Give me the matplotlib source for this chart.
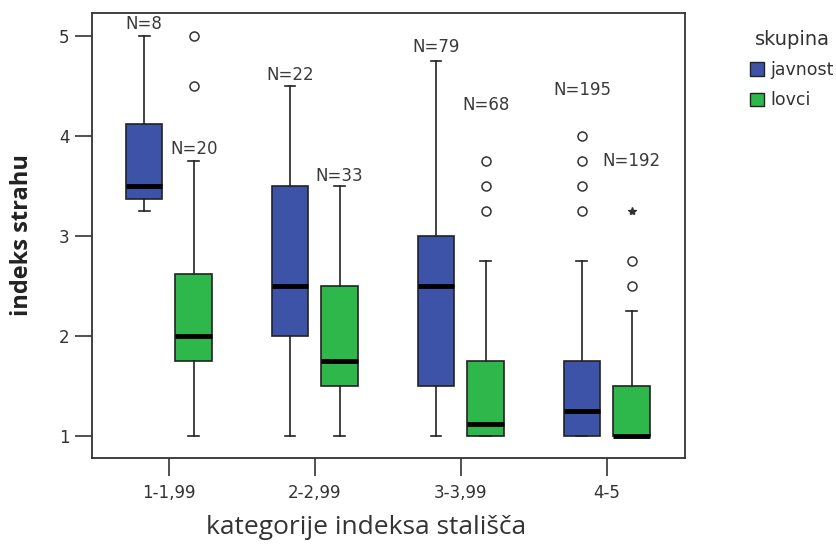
import matplotlib
matplotlib.use("Agg")
import matplotlib.pyplot as plt
from matplotlib.patches import Patch
import numpy as np

# podatki (odčitani s slike)
kategorije = ["1-1,99", "2-2,99", "3-3,99", "4-5"]
skupine = ["javnost", "lovci"]
barve = ["#3C53A7", "#2EB84B"]

# javnost
jav_n = [8, 22, 79, 195]
jav_whislo = [3.25, 1.0, 1.0, 1.0]
jav_q1 = [3.375, 2.0, 1.5, 1.0]
jav_med = [3.5, 2.5, 2.5, 1.25]
jav_q3 = [4.125, 3.5, 3.0, 1.75]
jav_whishi = [5.0, 4.5, 4.75, 2.75]
jav_fliers = [[], [], [], [3.25, 3.5, 3.75, 4.0]]
jav_extremes = [[], [], [], []]

# lovci
lov_n = [20, 33, 68, 192]
lov_whislo = [1.0, 1.0, 1.0, 1.0]
lov_q1 = [1.75, 1.5, 1.0, 1.0]
lov_med = [2.0, 1.75, 1.125, 1.0]
lov_q3 = [2.625, 2.5, 1.75, 1.5]
lov_whishi = [3.75, 3.5, 2.75, 2.25]
lov_fliers = [[4.5, 5.0], [], [3.25, 3.5, 3.75], [2.5, 2.75]]
lov_extremes = [[], [], [], [3.25]]

# y položaj oznak N
jav_label_y = [5.12, 4.61, 4.89, 4.46]
lov_label_y = [3.87, 3.60, 4.31, 3.75]

plt.rcParams['font.family'] = ['DejaVu Sans']

fig = plt.figure(figsize=(8.36, 5.44), dpi=100)
ax = fig.add_axes([0.110, 0.158, 0.709, 0.818])

x = np.arange(len(kategorije))
odmik = 0.17
sirina = 0.25

serije = [
    (jav_n, jav_whislo, jav_q1, jav_med, jav_q3, jav_whishi, jav_fliers, jav_extremes, jav_label_y),
    (lov_n, lov_whislo, lov_q1, lov_med, lov_q3, lov_whishi, lov_fliers, lov_extremes, lov_label_y),
]

for k, (n, wlo, q1, med, q3, whi, fl, ex, ly) in enumerate(serije):
    pos = x + (-odmik if k == 0 else odmik)
    stats = []
    for i in range(len(kategorije)):
        stats.append(dict(med=med[i], q1=q1[i], q3=q3[i], whislo=wlo[i],
                          whishi=whi[i], fliers=fl[i]))
    ax.bxp(stats, positions=pos, widths=sirina, patch_artist=True,
           capwidths=0.075, manage_ticks=False,
           boxprops=dict(facecolor=barve[k], edgecolor="#222222", linewidth=1.2),
           medianprops=dict(color="black", linewidth=3.5),
           whiskerprops=dict(color="#222222", linewidth=1.2),
           capprops=dict(color="#222222", linewidth=1.2),
           flierprops=dict(marker="o", markersize=6.5, markerfacecolor="white",
                           markeredgecolor="#333333", markeredgewidth=1.1))
    for i in range(len(kategorije)):
        if ex[i]:
            ax.plot([pos[i]] * len(ex[i]), ex[i], linestyle="none", marker="*",
                    markersize=6, color="#333333")
        ax.text(pos[i], ly[i], "N=%d" % n[i], ha="center", va="center",
                fontsize=12, color="#3a3a3a")

ax.set_xlim(-0.527, 3.534)
ax.set_ylim(0.78, 5.23)
ax.set_xticks(x)
ax.set_xticklabels(kategorije)
ax.set_yticks([1, 2, 3, 4, 5])
ax.tick_params(axis="x", direction="out", length=13, width=1.2, pad=6,
               labelsize=12, colors="#333333")
ax.tick_params(axis="y", direction="out", length=12, width=1.2, pad=4,
               labelsize=12, colors="#333333")
for s in ax.spines.values():
    s.set_linewidth(1.3)
    s.set_color("#333333")

ax.set_ylabel("indeks strahu", fontsize=17, fontweight="bold",
              family=["Open Sans", "DejaVu Sans"], color="#222222")
ax.yaxis.set_label_coords(-0.098, 0.5)
ax.set_xlabel("kategorije indeksa stališča", fontsize=19,
              family=["Open Sans", "DejaVu Sans"], color="#333333")
ax.xaxis.set_label_coords(0.462, -0.128)

ročke = [Patch(facecolor=barve[0], edgecolor="#222222", label=skupine[0]),
         Patch(facecolor=barve[1], edgecolor="#222222", label=skupine[1])]
leg = fig.legend(handles=ročke, title="skupina", loc="upper left",
                 bbox_to_anchor=(0.897, 0.945), frameon=False, fontsize=12.5,
                 title_fontsize=14, handlelength=0.8, handleheight=0.8,
                 labelspacing=0.7, handletextpad=0.4, borderpad=0,
                 borderaxespad=0)
for t in leg.get_texts():
    t.set_color("#333333")
leg.get_title().set_color("#333333")

plt.savefig("out.png", dpi=100)
